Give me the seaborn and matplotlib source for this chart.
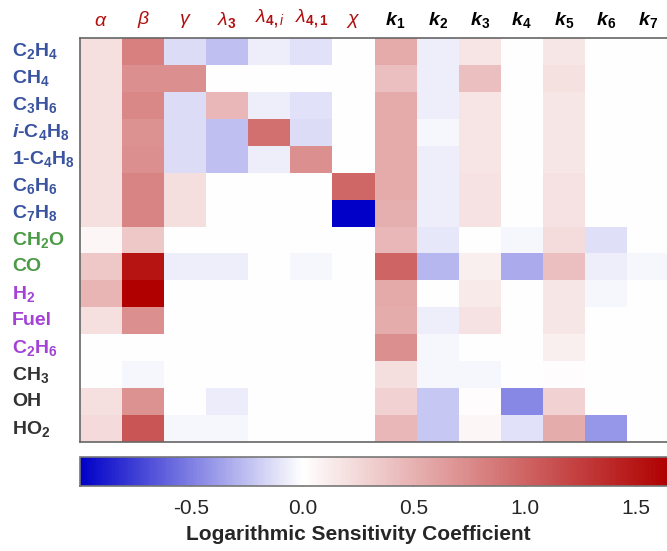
import numpy as np
import pandas as pd
import seaborn as sns
import matplotlib.pyplot as plt
from matplotlib.colors import LinearSegmentedColormap

# -------- data --------
species = ['C$_\\mathbf{2}$H$_\\mathbf{4}$', 'CH$_\\mathbf{4}$', 'C$_\\mathbf{3}$H$_\\mathbf{6}$',
           '$\\mathbfit{i}$-C$_\\mathbf{4}$H$_\\mathbf{8}$', '1-C$_\\mathbf{4}$H$_\\mathbf{8}$',
           'C$_\\mathbf{6}$H$_\\mathbf{6}$', 'C$_\\mathbf{7}$H$_\\mathbf{8}$', 'CH$_\\mathbf{2}$O', 'CO',
           'H$_\\mathbf{2}$', 'Fuel', 'C$_\\mathbf{2}$H$_\\mathbf{6}$', 'CH$_\\mathbf{3}$', 'OH', 'HO$_\\mathbf{2}$']
species_colors = ['#3a53a0'] * 7 + ['#4b9a45'] * 2 + ['#a442d6'] * 3 + ['#333333'] * 3

params = ['$\\alpha$', '$\\beta$', '$\\gamma$', '$\\lambda_\\mathbf{3}$', '$\\lambda_\\mathbf{4,\\mathit{i}}$',
          '$\\lambda_\\mathbf{4,1}$', '$\\chi$',
          'k$_\\mathbf{1}$', 'k$_\\mathbf{2}$', 'k$_\\mathbf{3}$', 'k$_\\mathbf{4}$', 'k$_\\mathbf{5}$',
          'k$_\\mathbf{6}$', 'k$_\\mathbf{7}$']

#          a     b     g     l3    l4i   l41   chi   k1    k2     k3    k4     k5    k6     k7
c2h4   = [0.21, 0.82, -0.14, -0.25, -0.06, -0.12, 0.01, 0.55, -0.06, 0.17, 0.0, 0.16, 0.0, 0.0]
ch4    = [0.21, 0.72, 0.72, 0.0, 0.0, 0.0, 0.0, 0.41, -0.06, 0.41, 0.0, 0.20, 0.0, 0.0]
c3h6   = [0.21, 0.78, -0.14, 0.46, -0.06, -0.12, 0.01, 0.55, -0.06, 0.17, 0.0, 0.16, 0.0, 0.0]
ic4h8  = [0.21, 0.70, -0.14, -0.25, 0.93, -0.14, 0.01, 0.55, -0.03, 0.17, 0.0, 0.16, 0.0, 0.0]
c4h8   = [0.21, 0.72, -0.14, -0.25, -0.06, 0.72, 0.01, 0.55, -0.06, 0.17, 0.0, 0.16, 0.0, 0.0]
c6h6   = [0.21, 0.80, 0.22, 0.0, 0.0, 0.0, 0.98, 0.55, -0.06, 0.19, 0.0, 0.19, 0.0, 0.0]
c7h8   = [0.21, 0.80, 0.22, 0.0, 0.0, 0.0, -1.00, 0.52, -0.06, 0.19, 0.0, 0.19, 0.0, 0.0]
ch2o   = [0.06, 0.36, 0.0, 0.0, 0.0, 0.0, 0.0, 0.46, -0.09, 0.0, -0.03, 0.23, -0.13, 0.0]
co     = [0.36, 1.52, -0.06, -0.06, 0.0, -0.03, 0.01, 1.00, -0.28, 0.10, -0.33, 0.41, -0.06, -0.03]
h2     = [0.49, 1.65, 0.0, 0.0, 0.0, 0.0, 0.0, 0.56, 0.01, 0.13, 0.0, 0.16, -0.03, 0.0]
fuel   = [0.21, 0.72, 0.0, 0.0, 0.0, 0.0, 0.0, 0.54, -0.06, 0.19, 0.0, 0.16, 0.0, 0.0]
c2h6   = [0.0, 0.0, 0.0, 0.0, 0.0, 0.0, 0.0, 0.72, -0.03, 0.0, 0.0, 0.10, 0.0, 0.0]
ch3    = [0.0, -0.03, 0.0, 0.0, 0.0, 0.0, 0.0, 0.22, -0.03, -0.03, 0.0, 0.02, 0.0, 0.0]
oh     = [0.21, 0.70, 0.0, -0.07, 0.0, 0.0, 0.01, 0.30, -0.22, 0.02, -0.47, 0.30, 0.0, 0.0]
ho2    = [0.24, 1.10, -0.03, -0.03, 0.0, 0.0, 0.01, 0.46, -0.22, 0.06, -0.12, 0.54, -0.40, 0.0]

rows = [c2h4, ch4, c3h6, ic4h8, c4h8, c6h6, c7h8, ch2o, co, h2, fuel, c2h6, ch3, oh, ho2]
df = pd.DataFrame(rows, index=species, columns=params)

vmin, vmax = -1.0, 1.65

# -------- style --------
sns.set_style('white')
plt.rcParams['font.family'] = ['Liberation Sans', 'DejaVu Sans']
plt.rcParams['mathtext.fontset'] = 'custom'
plt.rcParams['mathtext.rm'] = 'Liberation Sans'
plt.rcParams['mathtext.it'] = 'Liberation Sans:italic'
plt.rcParams['mathtext.bf'] = 'Liberation Sans:bold'
plt.rcParams['mathtext.bfit'] = 'Liberation Sans:bold:italic'

zero = (0 - vmin) / (vmax - vmin)
cmap = LinearSegmentedColormap.from_list(
    'bwr_custom', [(0.0, '#0000c8'), (zero, '#ffffff'), (1.0, '#b00000')])

# -------- plot --------
W, H = 667, 551
fig = plt.figure(figsize=(W / 100, H / 100), dpi=100)
ax = fig.add_axes([80 / W, 1 - 442 / H, 589 / W, 404 / H])
cax = fig.add_axes([80 / W, 1 - 486 / H, 589 / W, 29 / H])

sns.heatmap(df, cmap=cmap, vmin=vmin, vmax=vmax, ax=ax, cbar_ax=cax,
            cbar_kws={'orientation': 'horizontal'}, xticklabels=True, yticklabels=True)

# column labels on top
ax.xaxis.tick_top()
ax.tick_params(axis='x', length=0, pad=6, labelsize=14)
for i, lab in enumerate(ax.get_xticklabels()):
    lab.set_rotation(0)
    if i < 7:
        lab.set_color('#b01010')
    else:
        lab.set_color('black')
        lab.set_fontweight('bold')
        lab.set_fontstyle('italic')

# row labels, left aligned
ax.tick_params(axis='y', length=0, pad=49, labelsize=14)
for lab, c in zip(ax.get_yticklabels(), species_colors):
    lab.set_rotation(0)
    lab.set_ha('left')
    lab.set_color(c)
    lab.set_fontweight('bold')

for side in ['left', 'top', 'bottom']:
    ax.spines[side].set_visible(True)
    ax.spines[side].set_color('#666666')
    ax.spines[side].set_linewidth(1.2)

# colorbar
cbar = ax.collections[0].colorbar
cbar.set_ticks([-0.5, 0.0, 0.5, 1.0, 1.5])
cbar.set_ticklabels(['-0.5', '0.0', '0.5', '1.0', '1.5'])
cax.tick_params(axis='x', direction='in', length=4, width=1, color='#444444',
                pad=9, labelsize=15, bottom=True)
cbar.outline.set_visible(True)
cbar.outline.set_edgecolor('#777777')
cbar.outline.set_linewidth(1.2)

fig.text(358 / W, 1 - 535 / H, 'Logarithmic Sensitivity Coefficient',
         ha='center', va='center', fontsize=15, fontweight='bold')

fig.savefig('out.png', dpi=100)
